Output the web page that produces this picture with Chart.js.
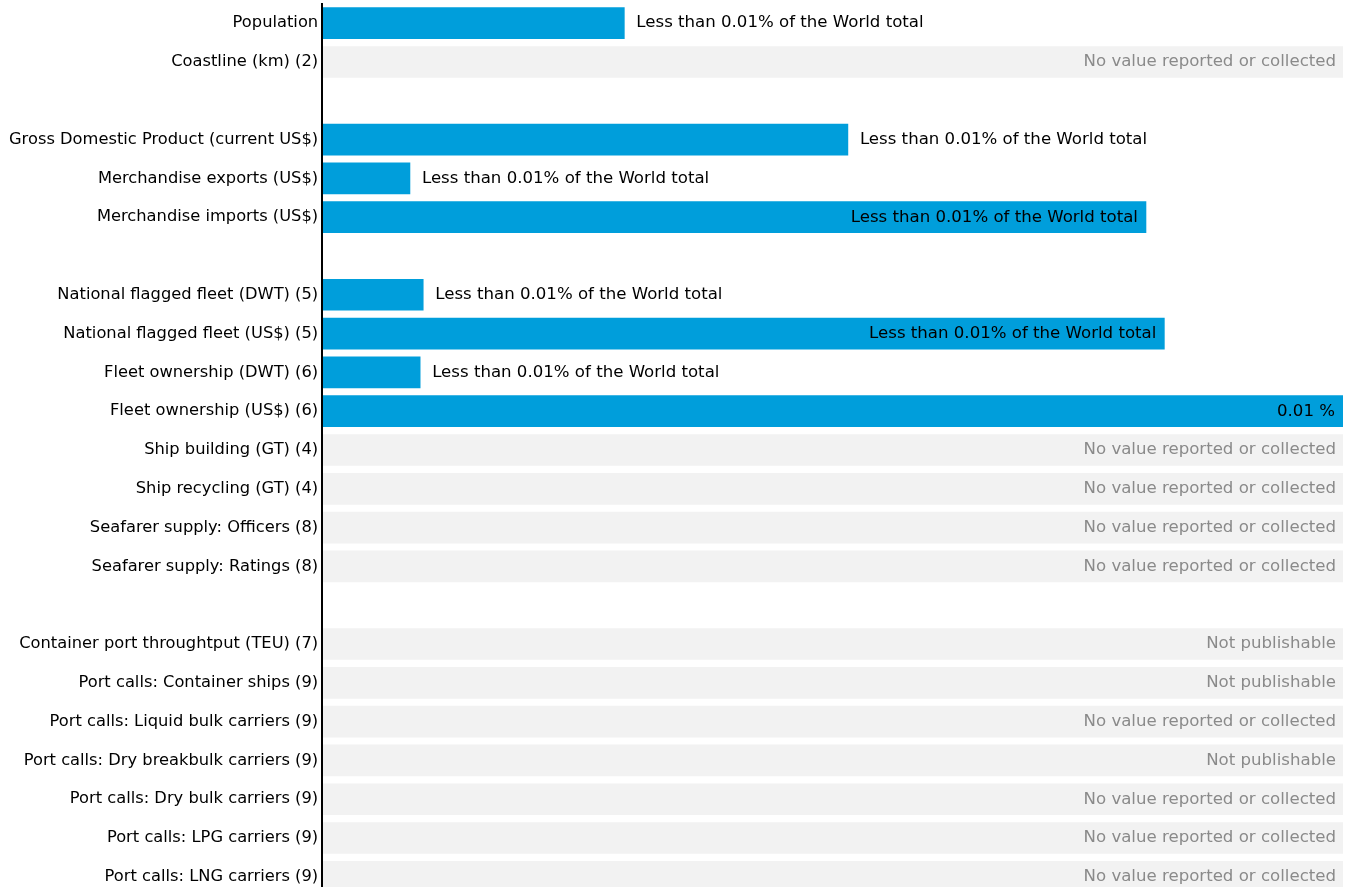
<!DOCTYPE html>
<html>
<head>
<meta charset="utf-8">
<script src="https://cdn.jsdelivr.net/npm/chart.js@4"></script>
<style>
  html, body { margin: 0; padding: 0; background: #fff; overflow: hidden; }
  #wrap { position: relative; top: -10px; width: 1354px; height: 920px; }
</style>
</head>
<body>
<div id="wrap"><canvas id="chart"></canvas></div>
<script>
// rows of the profile, "" = spacer row
const categories = [
  "Population",
  "Coastline (km) (2)",
  "",
  "Gross Domestic Product (current US$)",
  "Merchandise exports (US$)",
  "Merchandise imports (US$)",
  "",
  "National flagged fleet (DWT) (5)",
  "National flagged fleet (US$) (5)",
  "Fleet ownership (DWT) (6)",
  "Fleet ownership (US$) (6)",
  "Ship building (GT) (4)",
  "Ship recycling (GT) (4)",
  "Seafarer supply: Officers (8)",
  "Seafarer supply: Ratings (8)",
  "",
  "Container port throughtput (TEU) (7)",
  "Port calls: Container ships (9)",
  "Port calls: Liquid bulk carriers (9)",
  "Port calls: Dry breakbulk carriers (9)",
  "Port calls: Dry bulk carriers (9)",
  "Port calls: LPG carriers (9)",
  "Port calls: LNG carriers (9)",
];

// share of world total (%), null = no bar
const worldShare = [
  0.00296, null, null,
  0.00515, 0.00086, 0.00807, null,
  0.00099, 0.00825, 0.00096, 0.01,
  null, null, null, null, null,
  null, null, null, null, null, null, null,
];

const LESS = "Less than 0.01% of the World total";
const NOVAL = "No value reported or collected";
const NOPUB = "Not publishable";

const valueLabels = [
  LESS, NOVAL, "",
  LESS, LESS, LESS, "",
  LESS, LESS, LESS, "0.01 %",
  NOVAL, NOVAL, NOVAL, NOVAL, "",
  NOPUB, NOPUB, NOVAL, NOPUB, NOVAL, NOVAL, NOVAL,
];

const xMax = Math.max(...worldShare.filter((v) => v != null));
const emptyRows = categories.map((c, i) =>
  c && worldShare[i] == null ? xMax : null
);

const FONT = "'DejaVu Sans', sans-serif";

const valueLabelPlugin = {
  id: "valueLabels",
  afterDatasetsDraw(chart) {
    const ctx = chart.ctx;
    const area = chart.chartArea;
    const meta = chart.getDatasetMeta(0);
    ctx.save();
    ctx.font = "16.6px " + FONT;
    ctx.textBaseline = "middle";
    valueLabels.forEach((txt, i) => {
      if (!txt) return;
      const bar = meta.data[i];
      const y = chart.scales.y.getPixelForValue(i);
      if (worldShare[i] == null) {
        ctx.fillStyle = "#8a8a8a";
        ctx.textAlign = "right";
        ctx.fillText(txt, area.right - 7, y);
        return;
      }
      const w = bar.x - area.left;
      ctx.fillStyle = "#000";
      if (w > (area.right - area.left) * 0.7) {
        ctx.textAlign = "right";
        ctx.fillText(txt, bar.x - 8, y);
      } else {
        ctx.textAlign = "left";
        ctx.fillText(txt, bar.x + 12, y);
      }
    });
    ctx.restore();
  },
};

new Chart(document.getElementById("chart"), {
  type: "bar",
  data: {
    labels: categories,
    datasets: [
      {
        data: worldShare,
        backgroundColor: "#009edb",
        grouped: false,
        order: 0,
      },
      {
        data: emptyRows,
        backgroundColor: "#f2f2f2",
        grouped: false,
        order: 1,
      },
    ],
  },
  options: {
    indexAxis: "y",
    responsive: true,
    maintainAspectRatio: false,
    animation: false,
    barThickness: 31,
    layout: { padding: { top: 0, right: 11, left: 5, bottom: 0 } },
    plugins: {
      legend: { display: false },
      tooltip: { enabled: false },
    },
    scales: {
      x: {
        display: false,
        min: 0,
        max: xMax,
      },
      y: {
        grid: { display: false, drawTicks: false },
        border: { display: true, color: "#000", width: 2, z: 1 },
        ticks: {
          color: "#000",
          padding: 4,
          autoSkip: false,
          font: { family: FONT, size: 16.3 },
        },
      },
    },
  },
  plugins: [valueLabelPlugin],
});
</script>
</body>
</html>
